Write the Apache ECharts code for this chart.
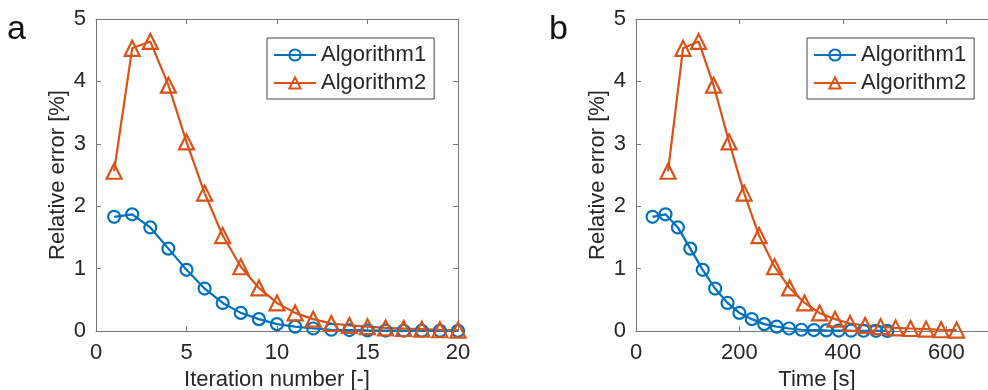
<!DOCTYPE html>
<html>
<head>
<meta charset="utf-8">
<script src="https://cdn.jsdelivr.net/npm/echarts@6/dist/echarts.min.js"></script>
<style>
html,body{margin:0;padding:0;background:#fff;}
#chart{width:988px;height:390px;}
</style>
</head>
<body>
<div id="chart"></div>
<script>
// ---- data ----
const iterations = [1,2,3,4,5,6,7,8,9,10,11,12,13,14,15,16,17,18,19,20];
const alg1Error = [1.83,1.87,1.66,1.32,0.98,0.68,0.45,0.29,0.19,0.11,0.07,0.04,0.02,0.015,0.01,0.007,0.005,0.004,0.003,0.002];
const alg2Error = [2.56,4.53,4.64,3.94,3.03,2.21,1.53,1.03,0.69,0.45,0.29,0.19,0.12,0.09,0.07,0.05,0.04,0.03,0.02,0.015];
const alg1Time = [32,57,81,105,129,153,177,200,224,248,272,296,320,344,368,392,416,440,464,486];
const alg2Time = [62,91,121,150,180,209,238,268,297,326,355,385,414,443,473,502,531,561,590,620];
const seriesNames = ['Algorithm1','Algorithm2'];
const panelLabels = ['a','b'];
const xNames = ['Iteration number [-]','Time [s]'];
const yName = 'Relative error [%]';

const FONT = 'Liberation Sans, Arial, sans-serif';
const TXT = '#262626';
const AX = '#777';
const BLUE = '#0072BD';
const ORANGE = '#D95319';

function pair(xs, ys){ return xs.map((x,i)=>[x, ys[i]]); }

const grids = [
  {left:96, top:19, width:362, height:312, containLabel:false, outerBoundsMode:'none'},
  {left:636, top:19, width:362, height:312, containLabel:false, outerBoundsMode:'none'}
];
const xRanges = [{min:0,max:20,interval:5},{min:0,max:700,interval:200}];

const xAxes = [], yAxes = [];
[0,1].forEach(g=>{
  xAxes.push({
    type:'value', gridIndex:g, position:'bottom', min:xRanges[g].min, max:xRanges[g].max, interval:xRanges[g].interval,
    name:xNames[g], nameLocation:'middle', nameGap:35,
    nameTextStyle:{fontSize:22, color:TXT, fontFamily:FONT},
    axisLine:{show:true, onZero:false, lineStyle:{color:AX, width:1}},
    axisTick:{show:true, inside:true, length:5, lineStyle:{color:AX}},
    axisLabel:{fontSize:22, color:TXT, fontFamily:FONT, margin:11, showMaxLabel: g===0},
    splitLine:{show:false}
  });
  xAxes.push({
    type:'value', gridIndex:g, position:'top', min:xRanges[g].min, max:xRanges[g].max, interval:xRanges[g].interval,
    axisLine:{show:true, onZero:false, lineStyle:{color:AX, width:1}},
    axisTick:{show:true, inside:true, length:5, lineStyle:{color:AX}},
    axisLabel:{show:false}, splitLine:{show:false}
  });
  yAxes.push({
    type:'value', gridIndex:g, position:'left', min:0, max:5, interval:1,
    name:yName, nameLocation:'middle', nameGap:27, nameRotate:90,
    nameTextStyle:{fontSize:22, color:TXT, fontFamily:FONT},
    axisLine:{show:true, onZero:false, lineStyle:{color:AX, width:1}},
    axisTick:{show:true, inside:true, length:5, lineStyle:{color:AX}},
    axisLabel:{fontSize:22, color:TXT, fontFamily:FONT, margin:10},
    splitLine:{show:false}
  });
  yAxes.push({
    type:'value', gridIndex:g, position:'right', min:0, max:5, interval:1,
    axisLine:{show:true, onZero:false, lineStyle:{color:AX, width:1}},
    axisTick:{show:true, inside:true, length:5, lineStyle:{color:AX}},
    axisLabel:{show:false}, splitLine:{show:false}
  });
});

function mkSeries(name, data, g, isTri){
  const c = isTri ? ORANGE : BLUE;
  return {
    name:name, type:'line', xAxisIndex:g*2, yAxisIndex:g*2, data:data,
    symbol: isTri ? 'triangle' : 'circle',
    symbolSize: isTri ? 15 : 12,
    showAllSymbol:true,
    lineStyle:{color:c, width:2.2},
    itemStyle:{color:'rgba(255,255,255,0)', borderColor:c, borderWidth:2.2},
    emphasis:{disabled:true},
    z:2
  };
}

const series = [
  mkSeries(seriesNames[0], pair(iterations, alg1Error), 0, false),
  mkSeries(seriesNames[1], pair(iterations, alg2Error), 0, true),
  mkSeries(seriesNames[0], pair(alg1Time, alg1Error), 1, false),
  mkSeries(seriesNames[1], pair(alg2Time, alg2Error), 1, true)
];

function mkLegend(left){
  return {
    data:seriesNames, orient:'vertical', left:left, top:38,
    padding:[6,8,5,6], itemGap:6, itemWidth:42, itemHeight:14,
    borderColor:'#444', borderWidth:1, backgroundColor:'#fff',
    textStyle:{fontSize:22, color:TXT, fontFamily:FONT},
    selectedMode:false
  };
}

const option = {
  animation:false,
  backgroundColor:'#fff',
  title:[
    {text:panelLabels[0], left:7, top:13, padding:0, textStyle:{fontSize:34, fontWeight:'normal', color:'#111', fontFamily:FONT}},
    {text:panelLabels[1], left:549, top:13, padding:0, textStyle:{fontSize:34, fontWeight:'normal', color:'#111', fontFamily:FONT}}
  ],
  legend:[mkLegend(267), mkLegend(807)],
  grid:grids,
  xAxis:xAxes,
  yAxis:yAxes,
  series:series
};

const chart = echarts.init(document.getElementById('chart'), null, {renderer:'canvas'});
chart.setOption(option);
</script>
</body>
</html>
